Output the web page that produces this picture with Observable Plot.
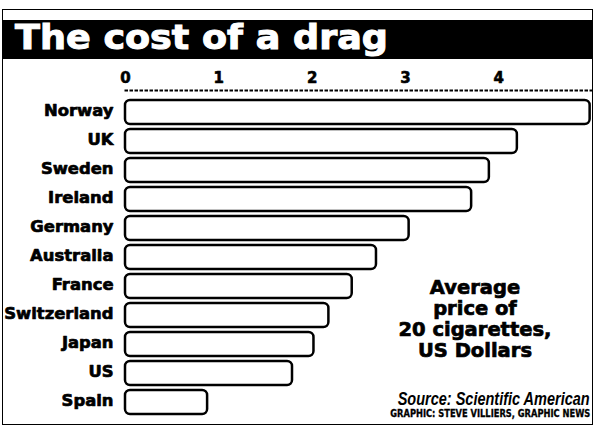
<!DOCTYPE html>
<html><head><meta charset="utf-8">
<script src="https://cdn.jsdelivr.net/npm/d3@7"></script>
<script src="https://cdn.jsdelivr.net/npm/@observablehq/plot@0.6"></script>
<style>
html,body{margin:0;padding:0;background:#fff;}
#wrap{position:relative;width:597px;height:427px;overflow:hidden;background:#fff;font-family:"DejaVu Sans",sans-serif;}
#frame{position:absolute;left:2px;top:9px;width:591px;height:416px;border:1.5px solid #000;box-sizing:border-box;}
#title{position:absolute;left:2px;top:20px;width:591px;height:39px;background:#000;}
#title span{position:absolute;left:13px;top:1px;color:#fff;font-weight:bold;font-size:33px;line-height:33px;white-space:nowrap;transform-origin:left top;-webkit-text-stroke:1px #fff;}
#chart{position:absolute;left:0;top:60px;}
#note{position:absolute;left:375px;top:277px;width:200px;text-align:center;font-weight:bold;font-size:19.5px;line-height:21px;color:#000;-webkit-text-stroke:0.7px #000;}
.fit{position:absolute;white-space:nowrap;color:#000;}
#source{right:7px;top:390px;font-family:"Liberation Sans Narrow","Liberation Sans",sans-serif;font-style:italic;font-weight:bold;font-size:19px;line-height:17px;transform-origin:right top;}
#credit{right:7px;top:408.5px;font-weight:bold;font-size:9.6px;line-height:9.6px;transform-origin:right top;-webkit-text-stroke:0.3px #000;}
</style></head>
<body>
<div id="wrap">
  <div id="frame"></div>
  <div id="title"><span class="fitme" data-w="373">The cost of a drag</span></div>
  <div id="chart"></div>
  <div id="note">Average<br>price of<br>20 cigarettes,<br>US Dollars</div>
  <div id="source" class="fit fitme" data-w="192">Source: Scientific American</div>
  <div id="credit" class="fit fitme" data-w="200">GRAPHIC: STEVE VILLIERS, GRAPHIC NEWS</div>
</div>
<script>
const countries = ["Norway","UK","Sweden","Ireland","Germany","Australia","France","Switzerland","Japan","US","Spain"];
const prices = [4.98, 4.20, 3.90, 3.71, 3.04, 2.69, 2.43, 2.18, 2.02, 1.79, 0.88];
const xTicks = [0, 1, 2, 3, 4];

const data = countries.map((c, i) => ({country: c, price: prices[i]}));

const chart = Plot.plot({
  width: 597,
  height: 367,
  marginLeft: 125,
  marginRight: 5.5,
  marginTop: 31,
  marginBottom: 4,
  style: {background: "transparent", fontFamily: "DejaVu Sans", overflow: "visible", color: "#000"},
  x: {domain: [0, 5], axis: null},
  y: {domain: countries, axis: null, padding: 0.18},
  marks: [
    Plot.frame({anchor: "top", stroke: "#000", strokeWidth: 2, strokeDasharray: "1.5,3.5", dy: -1}),
    Plot.barX(data, {x: "price", y: "country", fill: "#fff", stroke: "#000", strokeWidth: 2.5, rx: 5}),
    Plot.axisX(xTicks, {anchor: "top", label: null, tickSize: 0, tickPadding: 9, fontSize: 15, fontWeight: "bold", textStroke: "#000", textStrokeWidth: 0.6, tickFormat: d => String(d)}),
    Plot.axisY({label: null, tickSize: 0, tickPadding: 12, fontSize: 16.4, fontWeight: "bold", textStroke: "#000", textStrokeWidth: 0.7, dy: -2})
  ]
});
document.getElementById("chart").appendChild(chart);

document.querySelectorAll(".fitme").forEach(el => {
  const w = el.getBoundingClientRect().width;
  const target = +el.dataset.w;
  if (w > 0) el.style.transform = `scaleX(${target / w})`;
});
</script>
</body></html>
